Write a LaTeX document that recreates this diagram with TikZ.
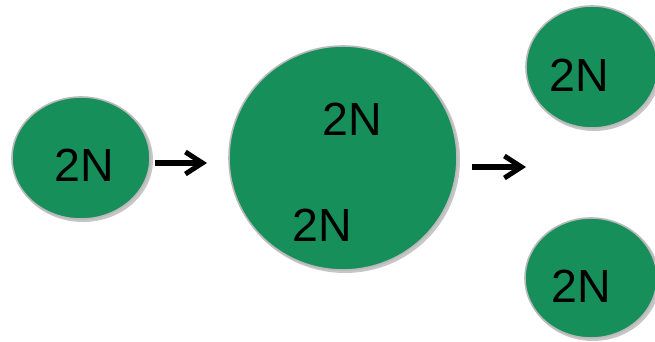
\documentclass[tikz,border=0pt]{standalone}
\usepackage{fontspec}
\setmainfont{Liberation Sans}
\usetikzlibrary{arrows.meta}
\definecolor{cellgreen}{RGB}{23,143,90}
\tikzset{
  cell/.style={fill=cellgreen, draw=gray!55, line width=1.6pt},
  cellshadow/.style={fill=gray!45},
  lbl/.style={inner sep=0pt, font=\fontsize{46.5}{46.5}\selectfont, text=black},
  flow/.style={line width=5.5pt, -{Straight Barb[length=17pt, width=22pt, line width=5pt]}},
}
\begin{document}
\begin{tikzpicture}[x=1pt, y=-1pt]
\useasboundingbox (0,0) rectangle (655,342);
\clip (0,0) rectangle (655,342);
% soft shadows under the cells
\fill[cellshadow] (83,160) ellipse [x radius=70, y radius=62];
\fill[cellshadow] (345,160) ellipse [x radius=115, y radius=113];
\fill[cellshadow] (594,69) ellipse [x radius=67, y radius=62];
\fill[cellshadow] (593,280) ellipse [x radius=67, y radius=61];
% cells
\draw[cell] (81,158) ellipse [x radius=69, y radius=61];
\draw[cell] (343,158) ellipse [x radius=114, y radius=112];
\draw[cell] (592,67) ellipse [x radius=66, y radius=61];
\draw[cell] (591,278) ellipse [x radius=66, y radius=60];
% labels
\node[lbl] (a) at (84,165) {2N};
\node[lbl] (b1) at (352,119) {2N};
\node[lbl] (b2) at (322,225) {2N};
\node[lbl] (c1) at (579,75) {2N};
\node[lbl] (c2) at (581,286) {2N};
% arrows
\coordinate (s1) at (155,163);
\coordinate (e1) at (207,163);
\coordinate (s2) at (472,167);
\coordinate (e2) at (526,167);
\draw[flow] (s1) -- (e1);
\draw[flow] (s2) -- (e2);
\end{tikzpicture}
\end{document}
